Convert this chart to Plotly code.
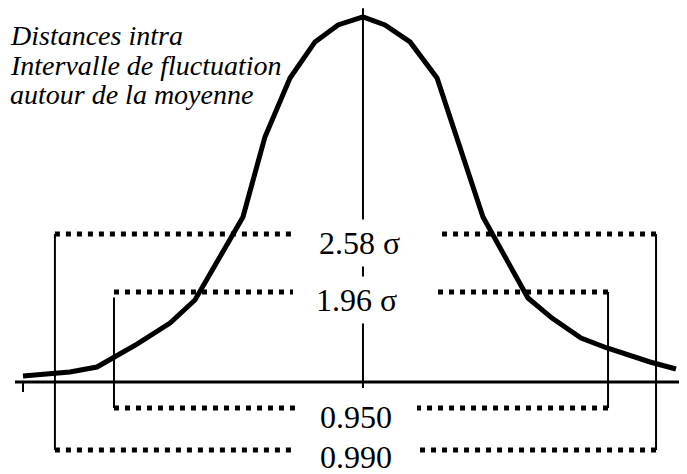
import plotly.graph_objects as go

# courbe de Gauss (x en sigma, y = densite)
curve_x = [-2.833, -2.442, -2.217, -1.883, -1.608, -1.400, -1.000, -0.817, -0.608, -0.400, -0.208, 0.0,
           0.183, 0.392, 0.617, 0.783, 1.000, 1.375, 1.575, 1.817, 2.033, 2.392, 2.608]
curve_y = [0.0066, 0.0109, 0.0164, 0.0415, 0.0645, 0.0896, 0.1803, 0.2678, 0.3322, 0.3716, 0.3902, 0.3989,
           0.3902, 0.3716, 0.3322, 0.2678, 0.1803, 0.0918, 0.0699, 0.0481, 0.0372, 0.0219, 0.0142]

# intervalles : bornes gauche/droite, niveau du trait pointille haut et bas
interval_labels = ["2.58 σ", "1.96 σ"]
prob_labels = ["0.990", "0.950"]
bound_left = [-2.567, -2.075]
bound_right = [2.442, 2.042]
level_top = [0.1617, 0.0984]
level_bottom = [-0.0743, -0.0284]
gap_top = [-0.583, 0.625]
gap_bottom = [-0.558, 0.45]

title_lines = ["Distances intra", "Intervalle de fluctuation", "autour de la moyenne"]

fig = go.Figure()

# axe horizontal et petit repere a gauche
fig.add_trace(go.Scatter(x=[-2.9, 2.75], y=[0, 0], mode="lines",
                         line=dict(color="black", width=3), hoverinfo="skip"))
fig.add_trace(go.Scatter(x=[curve_x[0], curve_x[0]], y=[0, -0.011], mode="lines",
                         line=dict(color="black", width=2), hoverinfo="skip"))
# axe vertical (moyenne)
fig.add_trace(go.Scatter(x=[0, 0], y=[0.4085, -0.0066], mode="lines",
                         line=dict(color="black", width=2), hoverinfo="skip"))

# traits verticaux des intervalles
for i in range(2):
    for bx in (bound_left[i], bound_right[i]):
        yt = level_top[i] - 0.006 if (i == 1 and bx < 0) else level_top[i]
        fig.add_trace(go.Scatter(x=[bx, bx], y=[yt, level_bottom[i]], mode="lines",
                                 line=dict(color="black", width=2), hoverinfo="skip"))

# traits pointilles (depuis les coins vers le centre)
for i in range(2):
    for lvl, gap in ((level_top[i], gap_top), (level_bottom[i], gap_bottom)):
        xs = [bound_left[i], gap[0], None, bound_right[i], gap[1]]
        ys = [lvl, lvl, None, lvl, lvl]
        fig.add_trace(go.Scatter(x=xs, y=ys, mode="lines",
                                 line=dict(color="black", width=5, dash="5px,6px"),
                                 hoverinfo="skip"))

# la courbe
fig.add_trace(go.Scatter(x=curve_x, y=curve_y, mode="lines",
                         line=dict(color="black", width=5), hoverinfo="skip"))

serif = "Liberation Serif, Times New Roman, serif"

label_pos = [(-0.033, 0.152), (-0.054, 0.0896)]
for i, txt in enumerate(interval_labels):
    fig.add_annotation(x=label_pos[i][0], y=label_pos[i][1], text=txt, showarrow=False,
                       font=dict(family=serif, size=32, color="black"),
                       bgcolor="white", borderpad=5)

prob_pos = [(-0.058, -0.082), (-0.058, -0.038)]
for i, txt in enumerate(prob_labels):
    fig.add_annotation(x=prob_pos[i][0], y=prob_pos[i][1], text=txt, showarrow=False,
                       font=dict(family=serif, size=32, color="black"))

title_y = [0.3792, 0.3464, 0.3137]
for i, txt in enumerate(title_lines):
    fig.add_annotation(x=-2.955, y=title_y[i], text="<i>" + txt + "</i>", showarrow=False,
                       xanchor="left", yanchor="middle",
                       font=dict(family=serif, size=28, color="black"))

# la page ajoute une marge de 8 px : la figure couvre le reste de la fenetre
fig.update_layout(
    width=679, height=466,
    margin=dict(l=0, r=0, t=0, b=0),
    paper_bgcolor="white", plot_bgcolor="white",
    showlegend=False,
    xaxis=dict(range=[-2.958, 2.7], visible=False, fixedrange=True),
    yaxis=dict(range=[-0.1005, 0.4087], visible=False, fixedrange=True),
)

fig.write_html("out.html")
